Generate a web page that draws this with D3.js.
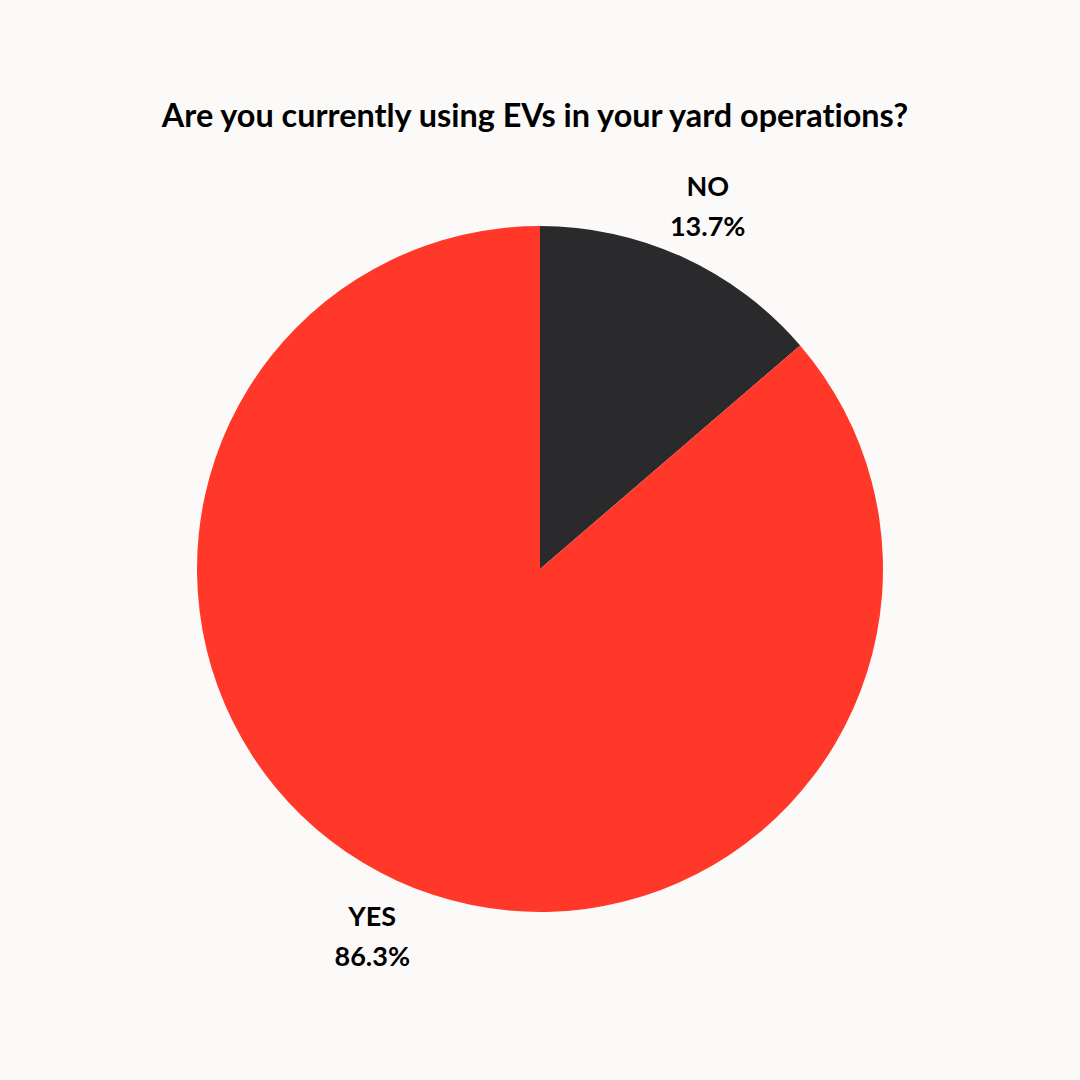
<!DOCTYPE html>
<html><head><meta charset="utf-8">
<script src="https://cdn.jsdelivr.net/npm/d3@7"></script>
<style>html,body{margin:0;padding:0;background:#FBFAF8;}svg{display:block;}text{font-variant-ligatures:none;font-feature-settings:"liga" 0;}</style>
</head><body>
<svg id="chart" width="1080" height="1080"></svg>
<script>
const categories = ["NO", "YES"];
const values = [13.7, 86.3];
const colors = ["#2A292B", "#FF3829"];
const title = "Are you currently using EVs in your yard operations?";

const svg = d3.select("#chart");
svg.append("rect").attr("width",1080).attr("height",1080).attr("fill","#FBFAF8");
svg.append("text").attr("x",535).attr("y",127).attr("text-anchor","middle")
  .attr("font-family","Lato").attr("font-weight","bold").attr("font-size",32.4).attr("fill","#000")
  .text(title);

const cx = 540, cy = 569, R = 343;
const data = categories.map((c,i)=>({cat:c, val:values[i], color:colors[i]}));
const pie = d3.pie().value(d=>d.val).sort(null);
const arc = d3.arc().innerRadius(0).outerRadius(R);
const labelArc = d3.arc().innerRadius(402).outerRadius(402);
const g = svg.append("g").attr("transform",`translate(${cx},${cy})`);
const arcs = pie(data);
g.selectAll("path").data(arcs).join("path").attr("d",arc).attr("fill",d=>d.data.color);
const lbl = g.selectAll("text.lbl").data(arcs).join("text").attr("class","lbl")
  .attr("transform",d=>`translate(${labelArc.centroid(d)})`)
  .attr("text-anchor","middle").attr("font-family","Lato").attr("font-weight","bold")
  .attr("font-size",27).attr("fill","#000");
lbl.append("tspan").attr("x",0).attr("y",-8).text(d=>d.data.cat);
lbl.append("tspan").attr("x",0).attr("y",32).text(d=>d3.format(".1f")(d.data.val)+"%");
</script>
</body></html>
